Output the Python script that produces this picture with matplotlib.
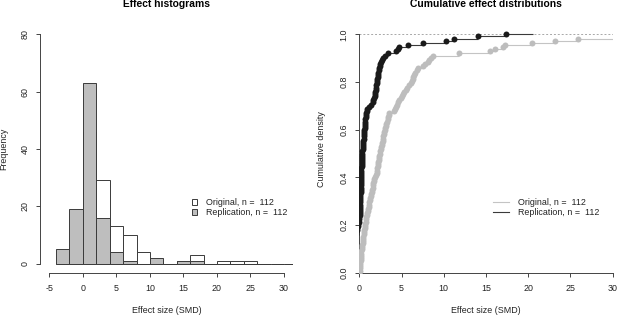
import numpy as np
import matplotlib
matplotlib.use("Agg")
import matplotlib.pyplot as plt
from matplotlib.patches import Patch
from matplotlib.lines import Line2D

plt.rcParams['font.family'] = ['Liberation Sans', 'DejaVu Sans']
plt.rcParams['axes.unicode_minus'] = False

# effect sizes (SMD)
original = [
    0.03, 0.06, 0.08, 0.1, 0.13, 0.15, 0.17, 0.2, 0.22, 0.25, 0.27,
    0.31, 0.34, 0.38, 0.41, 0.45, 0.48, 0.52, 0.55, 0.59, 0.62, 0.66,
    0.7, 0.75, 0.8, 0.85, 0.9, 0.95, 1.0, 1.05, 1.1, 1.15, 1.2, 1.25,
    1.3, 1.36, 1.41, 1.46, 1.52, 1.57, 1.62, 1.68, 1.73, 1.78, 1.84, 1.93,
    2.04, 2.08, 2.13, 2.17, 2.22, 2.26, 2.3, 2.35, 2.39, 2.44,
    2.5, 2.55, 2.6, 2.65, 2.7, 2.76, 2.81, 2.86, 2.91, 2.96, 3.02,
    3.1, 3.16, 3.22, 3.28, 3.34, 3.4, 3.46, 3.53,
    4.1, 4.25, 4.38, 4.5, 4.62, 4.75, 4.88, 5.0, 5.15, 5.35, 5.55, 5.7, 5.9,
    6.1, 6.2, 6.3, 6.4, 6.5, 6.6, 6.8, 7.0, 7.5, 7.8,
    8.1, 8.3, 8.5, 8.7,
    11.8, 15.5, 16.1, 17.0, 17.3, 20.5, 23.2, 25.9,
    34.0, 41.0,
]
replication = [
    -3.6, -3.1, -2.7, -2.4, -2.1,
    -1.8, -1.6, -1.4, -1.3, -1.1, -1.0, -0.9, -0.8, -0.7, -0.6,
    -0.5, -0.45, -0.4, -0.35, -0.3, -0.25, -0.2, -0.12, -0.05,
    0.01, 0.02, 0.03, 0.05, 0.06, 0.07, 0.08, 0.09, 0.1, 0.11, 0.12,
    0.13, 0.14, 0.15, 0.16, 0.17, 0.18, 0.19, 0.2, 0.21, 0.22, 0.23,
    0.24, 0.25, 0.26, 0.27, 0.28, 0.29, 0.3, 0.31, 0.33, 0.35,
    0.37, 0.39, 0.41, 0.43, 0.45, 0.47, 0.5, 0.52, 0.54, 0.57, 0.6,
    0.62, 0.65, 0.67, 0.7, 0.73, 0.76, 0.8, 0.84, 0.88, 0.93,
    1.15, 1.4, 1.6,
    1.68, 1.74, 1.8, 1.85, 1.9, 1.95, 1.99,
    2.02, 2.06, 2.1, 2.13, 2.17, 2.2, 2.25, 2.3, 2.36, 2.42, 2.5, 2.6,
    2.72, 2.85, 3.1, 3.4,
    4.4, 4.55, 4.7, 5.8,
    7.6, 10.3, 11.2, 14.1, 17.4,
]
bin_edges = np.arange(-4, 44, 2)

lab_orig = 'Original, n =  %d' % len(original)
lab_rep = 'Replication, n =  %d' % len(replication)

W, H = 617, 315
fig = plt.figure(figsize=(W / 100, H / 100), dpi=100)

axcol = '#444444'
txtcol = '#222222'
fs = 6.4


def px_axes(left, right, top, bottom):
    return fig.add_axes([left / W, (H - bottom) / H, (right - left) / W, (bottom - top) / H])


def style(ax):
    for s in ['top', 'right']:
        ax.spines[s].set_visible(False)
    for s in ['left', 'bottom']:
        ax.spines[s].set_color(axcol)
        ax.spines[s].set_linewidth(0.7)
    ax.tick_params(colors=axcol, labelcolor=txtcol, labelsize=fs, length=3, width=0.7)
    ax.tick_params(axis='x', pad=5.0)
    ax.tick_params(axis='y', pad=4.7)
    for lbl in ax.get_yticklabels():
        lbl.set_rotation(90)
        lbl.set_va('center')


# --- histograms ---
ax1 = px_axes(40.0, 293.4, 25.0, 272.8)
ax1.hist(original, bins=bin_edges, facecolor='white', edgecolor='#3a3a3a', linewidth=0.7)
ax1.hist(replication, bins=bin_edges, facecolor='#bebebe', edgecolor='#3a3a3a', linewidth=0.7)
ax1.set_xlim(-6.4, 31.4)
ax1.set_ylim(-3.2, 83.2)
ax1.set_xticks([-5, 0, 5, 10, 15, 20, 25, 30])
ax1.set_yticks([0, 20, 40, 60, 80])
ax1.spines['left'].set_bounds(0, 80)
ax1.spines['bottom'].set_bounds(-5, 30)
style(ax1)
ax1.set_title('Effect histograms', fontsize=7.4, fontweight='bold', y=1.083, va='center', pad=0)
ax1.set_xlabel('Effect size (SMD)', fontsize=fs, color=txtcol, va='center')
ax1.xaxis.set_label_coords(0.5, -37.5 / 247.8)
ax1.set_ylabel('Frequency', fontsize=fs, color=txtcol, va='center')
ax1.yaxis.set_label_coords(-36.0 / 253.4, 0.5)
ax1.legend(handles=[Patch(facecolor='white', edgecolor='#3a3a3a', linewidth=0.7, label=lab_orig),
                    Patch(facecolor='#bebebe', edgecolor='#3a3a3a', linewidth=0.7, label=lab_rep)],
           loc='center left', bbox_to_anchor=(191.5 / W, (H - 207.8) / H), bbox_transform=fig.transFigure,
           frameon=False, fontsize=fs, handlelength=0.65, handleheight=0.65, handletextpad=0.95,
           labelspacing=0.12, borderaxespad=0, borderpad=0, labelcolor=txtcol)

# --- cumulative distributions ---
ax2 = px_axes(359.3, 612.7, 25.0, 272.7)
xmax = 30


def draw_ecdf(ax, vals, lcol, pcol, right_end):
    x = np.sort(np.asarray(vals, dtype=float))
    y = np.arange(1, len(x) + 1) / len(x)
    starts = np.concatenate([[-10], x])
    ends = np.concatenate([x, [right_end]])
    levels = np.concatenate([[0], y])
    ax.hlines(levels, starts, ends, color=lcol, linewidth=0.8, zorder=2)
    ax.plot(x, y, 'o', color=pcol, markersize=4.3, markeredgewidth=0, zorder=3)


draw_ecdf(ax2, original, '#c4c4c4', '#bdbdbd', 60)
draw_ecdf(ax2, replication, '#3a3a3a', '#1a1a1a', 20.6)
ax2.axhline(0, color='#a8a8a8', linestyle=(0, (2, 2)), linewidth=0.7, zorder=1)
ax2.axhline(1, color='#a8a8a8', linestyle=(0, (2, 2)), linewidth=0.7, zorder=1)
ax2.set_xlim(0, xmax)
ax2.set_ylim(0, 247.7 / 238.4)
ax2.set_xticks([0, 5, 10, 15, 20, 25, 30])
ax2.set_yticks([0.0, 0.2, 0.4, 0.6, 0.8, 1.0])
ax2.set_yticklabels(['0.0', '0.2', '0.4', '0.6', '0.8', '1.0'])
ax2.spines['left'].set_bounds(0, 1)
ax2.spines['bottom'].set_bounds(0, 30)
style(ax2)
ax2.set_title('Cumulative effect distributions', fontsize=7.4, fontweight='bold', y=1.083, va='center', pad=0)
ax2.set_xlabel('Effect size (SMD)', fontsize=fs, color=txtcol, va='center')
ax2.xaxis.set_label_coords(0.5, -37.5 / 247.7)
ax2.set_ylabel('Cumulative density', fontsize=fs, color=txtcol, va='center')
ax2.yaxis.set_label_coords(-37.6 / 253.4, 0.5)
ax2.legend(handles=[Line2D([], [], color='#c4c4c4', linewidth=0.8, label=lab_orig),
                    Line2D([], [], color='#3a3a3a', linewidth=0.8, label=lab_rep)],
           loc='center left', bbox_to_anchor=(492.7 / W, (H - 207.8) / H), bbox_transform=fig.transFigure,
           frameon=False, fontsize=fs, handlelength=1.87, handletextpad=0.94,
           labelspacing=0.12, borderaxespad=0, borderpad=0, labelcolor=txtcol)

fig.savefig('out.png', dpi=100)
